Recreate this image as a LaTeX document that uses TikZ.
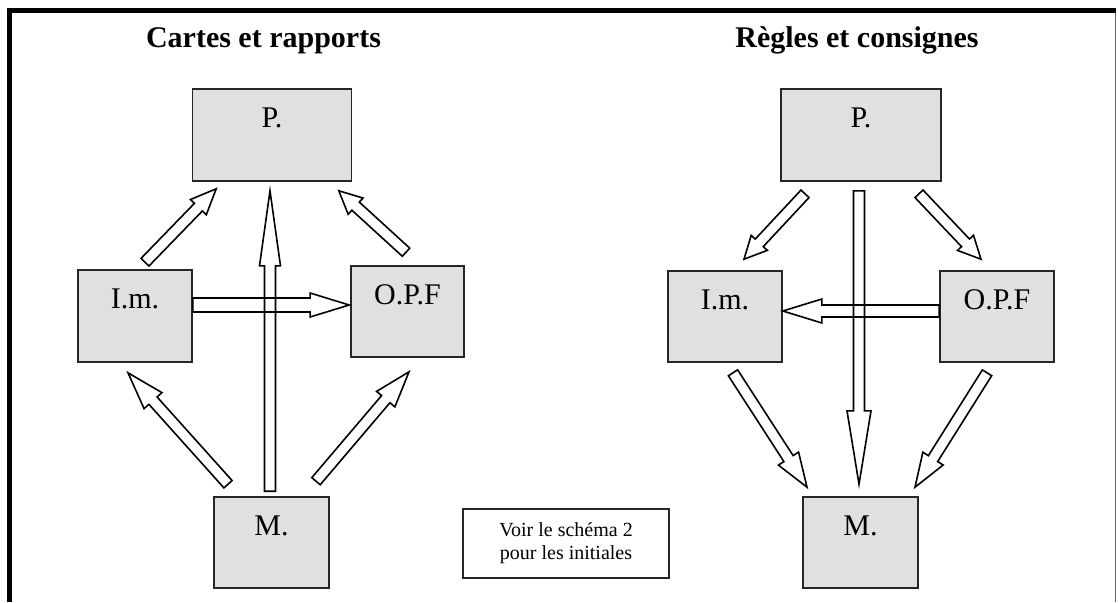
\documentclass[tikz,border=0pt]{standalone}
\usepackage{fontspec}
\setmainfont{Liberation Serif}
\usetikzlibrary{calc}
\definecolor{boxgray}{RGB}{224,224,224}
\newcommand\hollowarrow[4]{%
  \draw[harrowline] let \p1=($(#2)!0.25!(#1)$) in
    ($(#1)!#3!90:(#2)$) -- ($(\p1)!#3!90:(#2)$) -- ($(\p1)!#4!90:(#2)$) -- (#2)
    -- ($(\p1)!#4!-90:(#2)$) -- ($(\p1)!#3!-90:(#2)$) -- ($(#1)!#3!-90:(#2)$) -- cycle;}
\tikzset{
  harrowline/.style={draw=black, line width=1.6pt, line join=miter, fill=none},
  box/.style={draw=black!85, line width=1.6pt, fill=boxgray, inner sep=0pt},
  lab/.style={anchor=north, yshift=-19pt, inner sep=0pt, font=\fontsize{30}{36}\selectfont},
  titletext/.style={anchor=base, inner sep=0pt, font=\fontsize{30}{36}\selectfont\bfseries},
  notebox/.style={draw=black!85, line width=1.8pt, fill=white, align=center,
    font=\fontsize{20}{23}\selectfont, minimum width=206pt, minimum height=69pt, inner sep=0pt}
}
\begin{document}
\begin{tikzpicture}[x=1pt, y=-1pt]
\useasboundingbox (0,0) rectangle (1118,602);
% frame
\draw[line width=5pt] (7,10.5) -- (1116,10.5);
\draw[line width=5pt] (9.5,8) -- (9.5,602);
\draw[line width=1pt, black!60] (1115.5,13) -- (1115.5,602);

% titles
\node[titletext] (t1) at (263.5,48) {Cartes et rapports};
\node[titletext] (t2) at (857,48) {Règles et consignes};

% left diagram
\node[box, minimum width=159pt, minimum height=92pt, label={[lab]north:P.}] (LP) at (272,135) {};
\node[box, minimum width=114pt, minimum height=92pt, label={[lab]north:I.m.}] (LIm) at (135,316) {};
\node[box, minimum width=113pt, minimum height=91pt, label={[lab]north:O.P.F}] (LOPF) at (407.5,311.5) {};
\node[box, minimum width=115pt, minimum height=91pt, label={[lab]north:M.}] (LM) at (271.5,542.5) {};

% note
\node[notebox] (note) at (566,543.5) {Voir le schéma 2\\pour les initiales};

% right diagram
\node[box, minimum width=160pt, minimum height=92pt, label={[lab]north:P.}] (RP) at (861,135) {};
\node[box, minimum width=114pt, minimum height=91pt, label={[lab]north:I.m.}] (RIm) at (725,316.5) {};
\node[box, minimum width=114pt, minimum height=91pt, label={[lab]north:O.P.F}] (ROPF) at (997,316.5) {};
\node[box, minimum width=115pt, minimum height=91pt, label={[lab]north:M.}] (RM) at (860.5,542.5) {};

% left arrow end points
\coordinate (a1s) at ($(LIm.north)+(10,-7)$);
\coordinate (a1e) at ($(LP.south west)+(24.5,7)$);
\coordinate (a2s) at ($(LOPF.north)+(-1.5,-13)$);
\coordinate (a2e) at ($(LP.south east)+(-13.5,9)$);
\coordinate (a3s) at ($(LM.north)+(-1.5,-5)$);
\coordinate (a3e) at ($(LP.south)+(-2,9)$);
\coordinate (a4s) at ($(LIm.east)+(0,-11)$);
\coordinate (a4e) at ($(LOPF.west)+(-1,-6.5)$);
\coordinate (a5s) at ($(LM.north)+(-43.5,-12)$);
\coordinate (a5e) at ($(LIm.south)+(-7,10)$);
\coordinate (a6s) at ($(LM.north)+(44.5,-15)$);
\coordinate (a6e) at ($(LOPF.south)+(1.5,14)$);

\hollowarrow{a1s}{a1e}{5.5pt}{11pt}
\hollowarrow{a2s}{a2e}{5.5pt}{11pt}
\hollowarrow{a3s}{a3e}{5.5pt}{10.5pt}
\hollowarrow{a4s}{a4e}{7pt}{12pt}
\hollowarrow{a5s}{a5e}{5.5pt}{12pt}
\hollowarrow{a6s}{a6e}{5.5pt}{12pt}

% right arrow end points
\coordinate (b1s) at ($(RP.south)+(-56,12)$);
\coordinate (b1e) at ($(RIm.north)+(19,-11)$);
\coordinate (b2s) at ($(RP.south)+(58,12)$);
\coordinate (b2e) at ($(ROPF.north)+(-16,-11)$);
\coordinate (b3s) at ($(RP.south)+(-2,9)$);
\coordinate (b3e) at ($(RM.north)+(-1.5,-12)$);
\coordinate (b4s) at ($(ROPF.west)+(0,-5.5)$);
\coordinate (b4e) at ($(RIm.east)+(0,-5.5)$);
\coordinate (b5s) at ($(RIm.south)+(8,10)$);
\coordinate (b5e) at ($(RM.north)+(-53.5,-9)$);
\coordinate (b6s) at ($(ROPF.south)+(-10,10)$);
\coordinate (b6e) at ($(RM.north)+(54.5,-9)$);

\hollowarrow{b1s}{b1e}{5.5pt}{11pt}
\hollowarrow{b2s}{b2e}{5.5pt}{11pt}
\hollowarrow{b3s}{b3e}{5.5pt}{12pt}
\hollowarrow{b4s}{b4e}{6pt}{12pt}
\hollowarrow{b5s}{b5e}{5.5pt}{12pt}
\hollowarrow{b6s}{b6e}{5.5pt}{12pt}
\end{tikzpicture}
\end{document}
